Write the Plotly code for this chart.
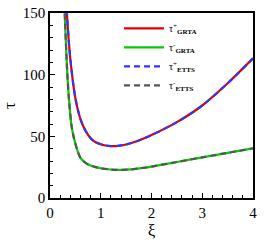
import plotly.graph_objects as go

xi_plus = [0.30, 0.33, 0.40, 0.50, 0.60, 0.70, 0.80, 0.90, 1.00, 1.10, 1.20, 1.30, 1.50, 1.75, 2.00, 2.50, 3.00, 3.50, 4.00]
tau_plus = [185, 152, 113, 81, 64, 54.5, 48.5, 45.2, 43.6, 42.6, 42.1, 42.1, 43.4, 46.6, 51.0, 61.5, 75.0, 93.0, 113.2]

xi_minus = [0.26, 0.29, 0.33, 0.37, 0.43, 0.50, 0.60, 0.70, 0.80, 0.90, 1.00, 1.20, 1.40, 1.60, 1.80, 2.00, 2.50, 3.00, 3.50, 4.00]
tau_minus = [190, 150, 110, 82, 57, 44, 32.5, 28.5, 26.3, 25.0, 24.1, 23.1, 22.8, 23.2, 24.2, 25.5, 29.2, 32.9, 36.6, 40.2]

names = ["τ<sup>+</sup><sub><b>GRTA</b></sub>", "τ<sup>-</sup><sub><b>GRTA</b></sub>",
         "τ<sup>+</sup><sub><b>ETTS</b></sub>", "τ<sup>-</sup><sub><b>ETTS</b></sub>"]

fig = go.Figure()
fig.add_trace(go.Scatter(x=xi_plus, y=tau_plus, mode="lines", name=names[0],
                         line=dict(color="#e00000", width=2.2, shape="spline", smoothing=0.8)))
fig.add_trace(go.Scatter(x=xi_minus, y=tau_minus, mode="lines", name=names[1],
                         line=dict(color="#00cc00", width=2.2, shape="spline", smoothing=0.8)))
fig.add_trace(go.Scatter(x=xi_plus, y=tau_plus, mode="lines", name=names[2],
                         line=dict(color="#3333ff", width=2.2, dash="6px,4px", shape="spline", smoothing=0.8)))
fig.add_trace(go.Scatter(x=xi_minus, y=tau_minus, mode="lines", name=names[3],
                         line=dict(color="#555555", width=2.2, dash="6px,4px", shape="spline", smoothing=0.8)))

axis_common = dict(showgrid=False, zeroline=False, showline=True, linecolor="black", linewidth=1.5,
                   mirror=True, ticks="inside", ticklen=5, tickcolor="black", tickwidth=1,
                   automargin=False,
                   tickfont=dict(family="Liberation Serif", size=15, color="black"))

fig.update_xaxes(range=[0, 4], dtick=1, minor=dict(ticks="inside", ticklen=3, dtick=0.2, tickcolor="black"),
                 title=dict(text="ξ", font=dict(family="Liberation Serif", size=17, color="black"), standoff=2),
                 **axis_common)
fig.update_yaxes(range=[0, 150], dtick=50, minor=dict(ticks="inside", ticklen=3, dtick=10, tickcolor="black"),
                 title=dict(text="τ", font=dict(family="Liberation Serif", size=17, color="black"), standoff=17),
                 **axis_common)

fig.update_layout(
    width=273, height=242,
    margin=dict(l=50, r=20, t=13, b=44, autoexpand=False),
    plot_bgcolor="white", paper_bgcolor="white",
    legend=dict(x=0.34, y=0.995, xanchor="left", yanchor="top", bgcolor="rgba(0,0,0,0)",
                font=dict(family="Liberation Serif", size=10, color="black"),
                tracegroupgap=0, itemwidth=40),
    showlegend=True,
)

fig.write_html("out.html", config={"displayModeBar": False},
               post_script="document.body.style.margin='0';")
